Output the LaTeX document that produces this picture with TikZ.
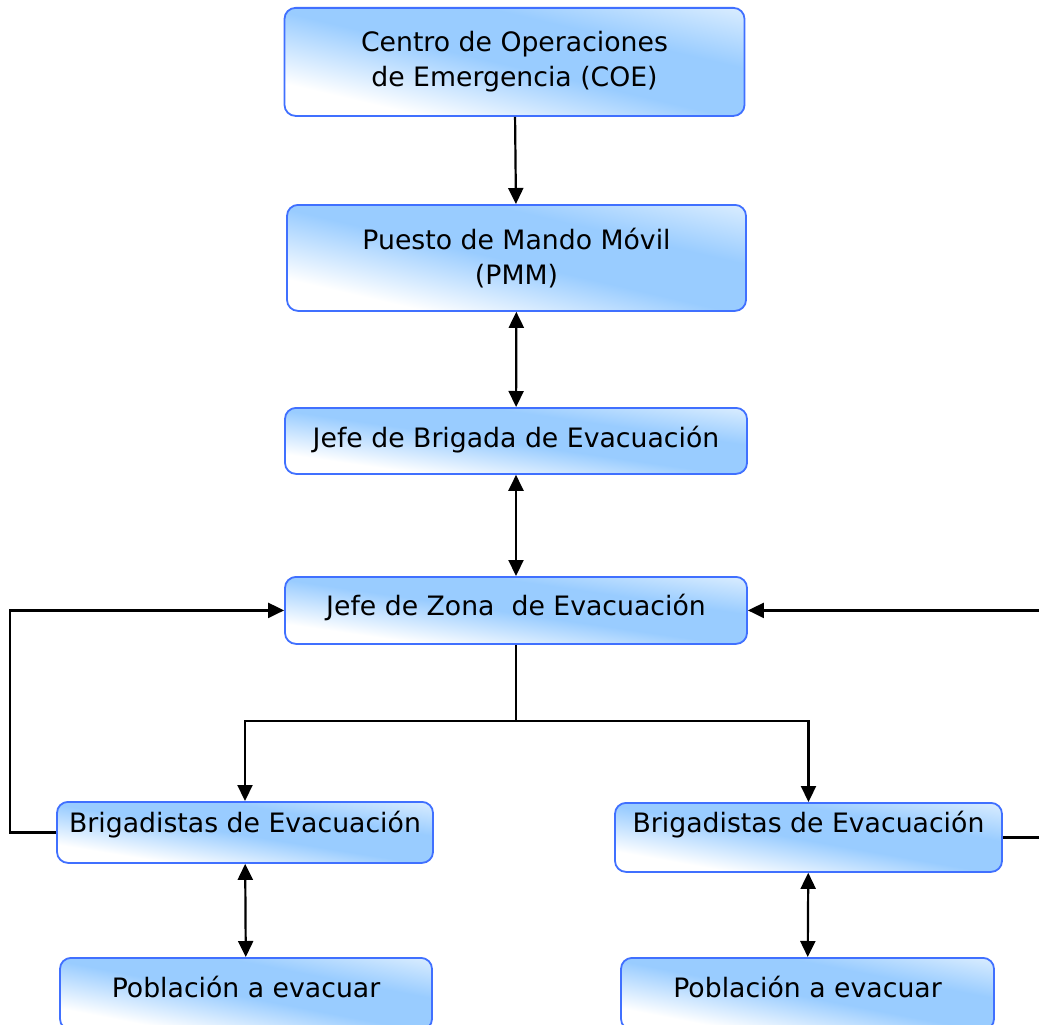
\documentclass[tikz,border=0pt]{standalone}
\usepackage{fontspec}
\setmainfont{DejaVu Sans}
\usetikzlibrary{arrows.meta}
\definecolor{boxline}{RGB}{64,112,255}
\definecolor{boxblue}{RGB}{153,204,255}
\definecolor{boxpale}{RGB}{218,237,255}
% fill of the boxes: white corner, blue body, paler far corner
\pgfdeclareverticalshading{boxshade}{100bp}{color(0bp)=(white); color(15bp)=(white);
  color(48bp)=(boxblue); color(72bp)=(boxblue); color(100bp)=(boxpale)}
\newdimen\shadew
\newdimen\shadeh
% stretch the shading over the box so that it runs from the lower left
% corner to the upper right corner
\tikzset{diagfill/.style={path picture={%
  \pgfpointdiff{\pgfpointanchor{path picture bounding box}{south west}}%
               {\pgfpointanchor{path picture bounding box}{north east}}%
  \pgfgetlastxy{\shadew}{\shadeh}%
  \pgfmathsetmacro\shadesx{\shadew/100.375}%
  \pgfmathsetmacro\shadesy{\shadeh/100.375}%
  \pgftransformshift{\pgfpointanchor{path picture bounding box}{center}}%
  \pgftransformxscale{\shadesx}%
  \pgftransformyscale{\shadesy}%
  \pgftransformrotate{-45}%
  \pgftransformscale{1.4143}%
  \pgftext{\pgfuseshading{boxshade}}%
}}}
\begin{document}
\begin{tikzpicture}[x=1pt,y=-1pt,
  box/.style={draw=boxline, line width=1.8pt, rounded corners=11pt, diagfill,
    inner xsep=0pt, inner ysep=0pt, anchor=north,
    font=\fontsize{26.7}{35}\selectfont, align=center},
  tip/.tip={Triangle[length=16pt,width=15pt]},
  link/.style={line width=2.2pt, -tip},
  both/.style={line width=2.2pt, tip-tip},
  plain/.style={line width=2.2pt}]
\clip (0,0) rectangle (1039,1025);
\fill[white] (0,0) rectangle (1039,1025);

% chain of command
\node[box, minimum width=460pt, minimum height=108pt] (coe) at (514.5,7)
  {Centro de Operaciones\\de Emergencia (COE)};
\node[box, minimum width=459pt, minimum height=106pt] (pmm) at (516.5,204)
  {Puesto de Mando Móvil\\(PMM)};
\node[box, minimum width=462pt, text height=40pt, text depth=26pt] (jb) at (516,407)
  {Jefe de Brigada de Evacuación};
\node[box, minimum width=462pt, text height=39pt, text depth=28pt] (jz) at (516,576)
  {Jefe de Zona\ \ de Evacuación};

% field teams
\node[box, minimum width=376pt, text height=31pt, text depth=30pt] (bl) at (245,801)
  {Brigadistas de Evacuación};
\node[box, minimum width=387pt, text height=30pt, text depth=39pt] (br) at (808.5,802)
  {Brigadistas de Evacuación};
\node[box, minimum width=372pt, text height=40pt, text depth=32pt] (pl) at (246,957)
  {Población a evacuar};
\node[box, minimum width=373pt, text height=40pt, text depth=32pt] (pr) at (807.5,957)
  {Población a evacuar};

% connectors
\coordinate (split) at (516,721);
\coordinate (lloop) at (10,0);
\coordinate (rloop) at (1052,0);

\draw[link] (coe) -- (pmm);
\draw[both] (pmm) -- (jb);
\draw[both] (jb) -- (jz);
\draw[plain] (jz.south) -- (split);
\draw[link] (split) -| (bl.north);
\draw[link] (split) -| (br.north);
\draw[link] (bl.west) -- (bl.west -| lloop) -- (jz.west -| lloop) -- (jz.west);
\draw[link] (br.east) -- (br.east -| rloop) -- (jz.east -| rloop) -- (jz.east);
\draw[both] (bl) -- (pl);
\draw[both] (br) -- (pr);
\end{tikzpicture}
\end{document}
